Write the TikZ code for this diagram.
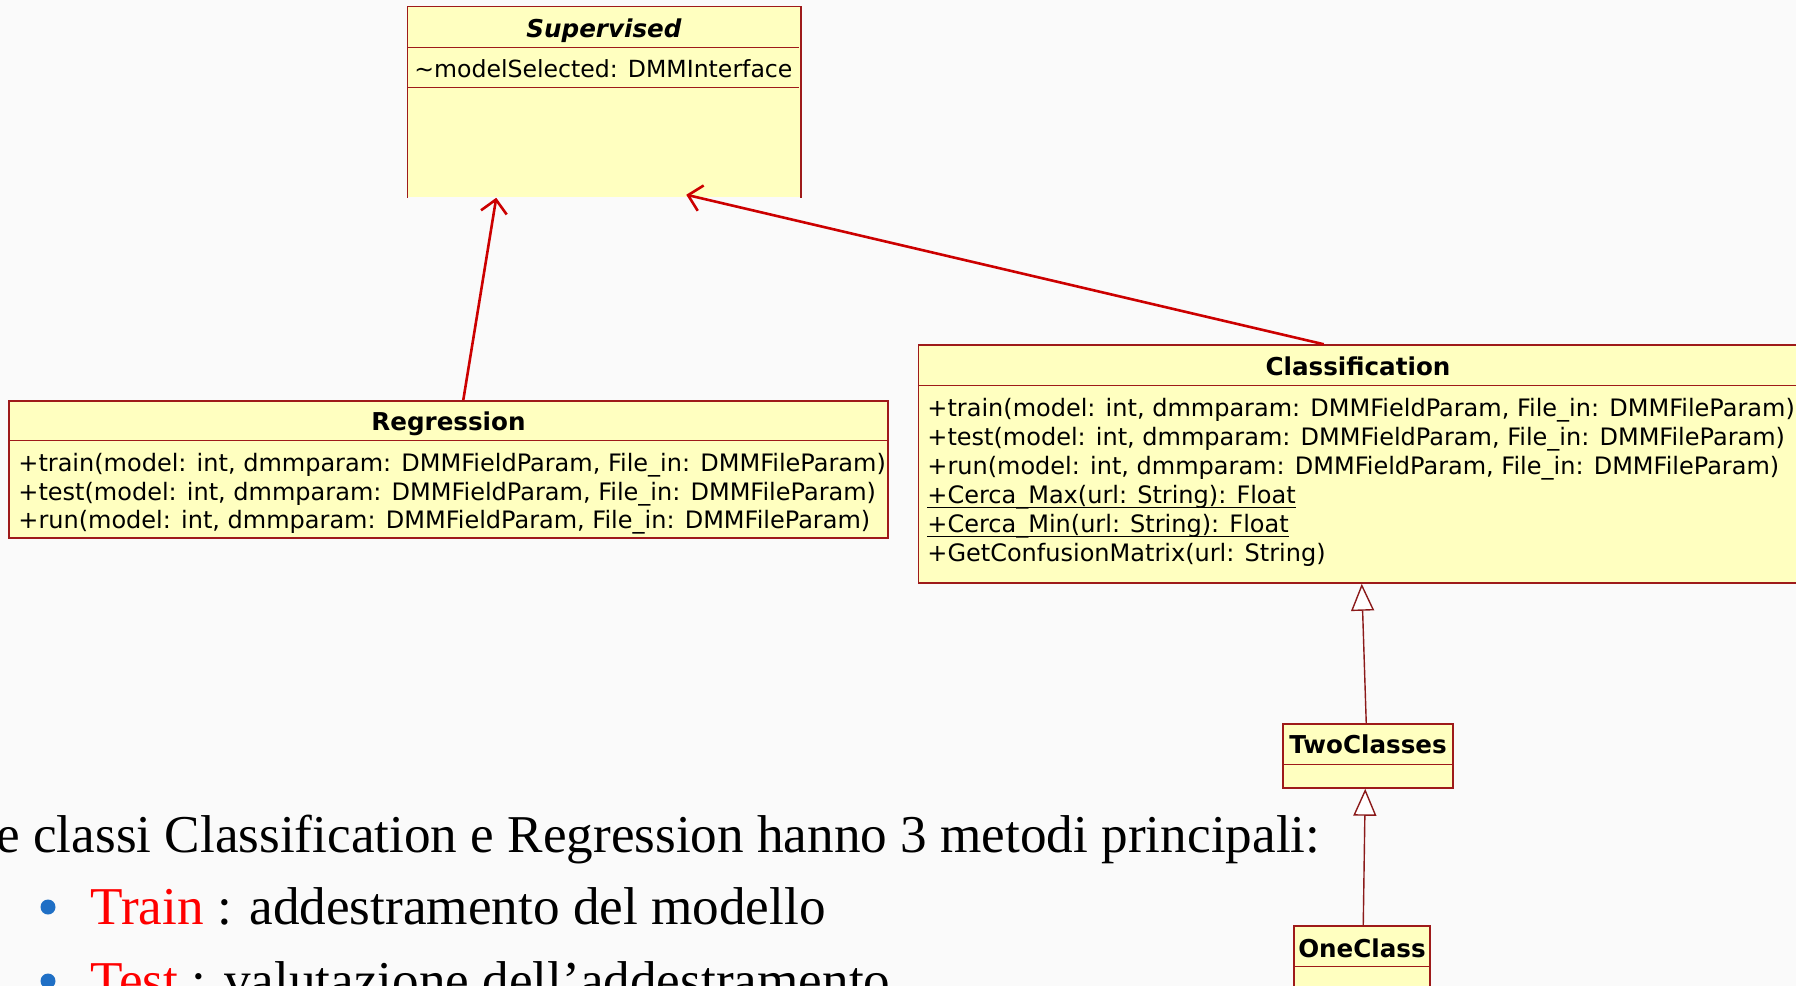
\documentclass[tikz,border=0pt]{standalone}
\usepackage{fontspec}
\setmainfont{Liberation Serif}
\newfontfamily\umlfont{DejaVu Sans}
\usetikzlibrary{arrows.meta}
\definecolor{umlfill}{HTML}{FFFFC0}
\definecolor{umlline}{HTML}{9E1A1A}
\definecolor{assoccol}{HTML}{CC0000}
\definecolor{gencol}{HTML}{8B1A1A}
\definecolor{bulletcol}{HTML}{1F6FC5}
\definecolor{slidebg}{HTML}{FAFAFA}
\newcommand\umlul[1]{\setbox0\hbox{#1}\rlap{\rule[-2.3pt]{\wd0}{0.55pt}}\box0}
\tikzset{
  umlbox/.style={fill=umlfill, draw=umlline, line width=0.75pt, inner sep=0pt},
  umltext/.style={font=\umlfont\fontsize{12}{14}\selectfont, inner sep=0pt, anchor=base west},
  umltitle/.style={font=\umlfont\bfseries\fontsize{12.3}{14}\selectfont, inner sep=0pt, anchor=base},
  sepline/.style={draw=umlline, line width=0.75pt},
  assocarrow/.style={draw=assoccol, line width=1.3pt, -{Straight Barb[length=6.5pt,width=13pt]}},
  genarrow/.style={draw=gencol, line width=0.7pt, -{Triangle[open, length=13.5pt, width=11.5pt, fill=white]}},
  slidetext/.style={font=\fontsize{26.6}{30}\selectfont, inner sep=0pt, anchor=base west},
  bulletdot/.style={circle, fill=bulletcol, minimum size=7.5pt, inner sep=0pt}
}
\begin{document}
\begin{tikzpicture}[x=0.5pt,y=-0.5pt]
\fill[slidebg] (0,0) rectangle (1796,986);
\useasboundingbox (0,0) rectangle (1796,986);
\clip (0,0) rectangle (1796,986);

% slide text
\node[slidetext] (l1) at (-4,852) {e classi Classification e Regression hanno 3 metodi principali:};
\node[bulletdot] (b1) at (48,907) {};
\node[slidetext] (l2) at (90,924) {\textcolor{red}{Train} : addestramento del modello};
\node[bulletdot] (b2) at (48,981) {};
\node[slidetext] (l3) at (90,998) {\textcolor{red}{Test} : valutazione dell’addestramento};

% Supervised
\node[umlbox, draw=none, minimum width=196pt, minimum height=95pt] (sup) at (604,102) {};
\draw[sepline] (sup.south west) -- (sup.north west) -- (sup.north east) -- (sup.south east);
\draw[sepline] (sup.north west) ++(0,41) -- ++(392,0);
\draw[sepline] (sup.north west) ++(0,81) -- ++(392,0);
\node[umltitle, font=\umlfont\bfseries\itshape\fontsize{12.3}{14}\selectfont] (supt) at (604,37.5) {Supervised};
\node[umltext, font=\umlfont\fontsize{11.8}{14}\selectfont] (supa) at (414,77.5) {\textasciitilde modelSelected: DMMInterface};

% Regression
\node[umlbox, minimum width=439.5pt, minimum height=68.5pt] (reg) at (448.5,469.5) {};
\draw[sepline] (reg.north west) ++(0,40) -- ++(879,0);
\node[umltitle] (regt) at (448.5,430.5) {Regression};
\node[umltext] (r1) at (18,471.5) {+train(model: int, dmmparam: DMMFieldParam, File\_in: DMMFileParam)};
\node[umltext] (r2) at (18,500) {+test(model: int, dmmparam: DMMFieldParam, File\_in: DMMFileParam)};
\node[umltext] (r3) at (18,528.5) {+run(model: int, dmmparam: DMMFieldParam, File\_in: DMMFileParam)};

% Classification
\node[umlbox, minimum width=441pt, minimum height=119pt] (cls) at (1359.5,464) {};
\draw[sepline] (cls.north west) ++(0,41) -- ++(881,0);
\node[umltitle] (clst) at (1358,375) {Classification};
\node[umltext] (c1) at (927,416.5) {+train(model: int, dmmparam: DMMFieldParam, File\_in: DMMFileParam)};
\node[umltext] (c2) at (927,445) {+test(model: int, dmmparam: DMMFieldParam, File\_in: DMMFileParam)};
\node[umltext] (c3) at (927,474) {+run(model: int, dmmparam: DMMFieldParam, File\_in: DMMFileParam)};
\node[umltext] (c4) at (927,503) {\umlul{+Cerca\_Max(url: String): Float}};
\node[umltext] (c5) at (927,532) {\umlul{+Cerca\_Min(url: String): Float}};
\node[umltext] (c6) at (927,561) {+GetConfusionMatrix(url: String)};

% TwoClasses
\node[umlbox, minimum width=85pt, minimum height=32pt] (two) at (1368,756) {};
\draw[sepline] (two.north west) ++(0,41) -- ++(170,0);
\node[umltitle] (twot) at (1368,753.5) {TwoClasses};

% OneClass
\node[umlbox, minimum width=68pt, minimum height=37pt] (one) at (1362,963) {};
\draw[sepline] (one.north west) ++(0,41) -- ++(136,0);
\node[umltitle] (onet) at (1362,957) {OneClass};

% connectors
\draw[assocarrow] ([xshift=227.5pt]reg.north west) -- ([xshift=44.5pt]sup.south west);
\draw[assocarrow] ([xshift=203pt]cls.north west) -- ([xshift=139.5pt,yshift=1.5pt]sup.south west);
\draw[genarrow] ([xshift=42pt]two.north west) -- ([xshift=222pt]cls.south west);
\draw[genarrow] ([xshift=35pt]one.north west) -- ([xshift=41.5pt]two.south west);
\end{tikzpicture}
\end{document}
